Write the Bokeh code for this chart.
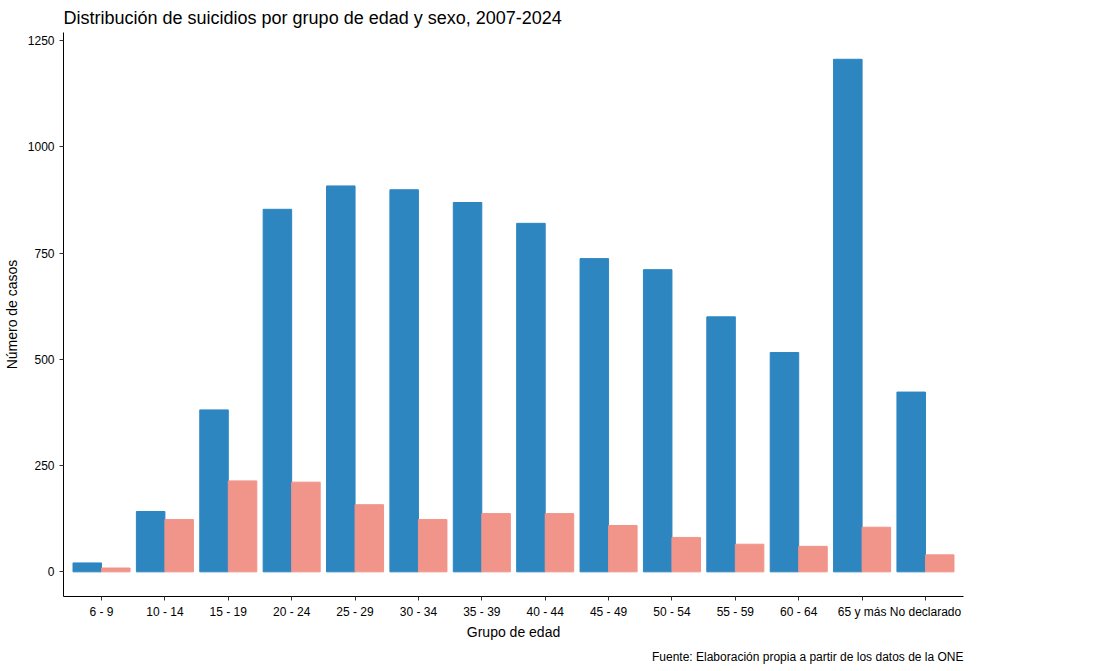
from bokeh.plotting import figure
from bokeh.models import Range1d, FixedTicker, Legend, LegendItem, Title
from bokeh.embed import file_html
from bokeh.resources import INLINE

grupos = ["6 - 9","10 - 14","15 - 19","20 - 24","25 - 29","30 - 34","35 - 39","40 - 44","45 - 49","50 - 54","55 - 59","60 - 64","65 y más","No declarado"]
hombres = [21,142,381,853,908,899,869,820,737,711,600,516,1206,423]
mujeres = [9,123,214,211,158,123,137,137,109,81,65,60,105,40]
yticks = [0,250,500,750,1000,1250]

F = "Liberation Sans"
p = figure(frame_width=900, frame_height=564, output_backend="svg", toolbar_location=None,
           x_range=Range1d(-0.6, len(grupos)-0.4), y_range=Range1d(-58, 1269),
           min_border_left=6, min_border_top=4, min_border_right=0, min_border_bottom=4)
p.title.text = "Distribución de suicidios por grupo de edad y sexo, 2007-2024"
p.title.text_font = F; p.title.text_font_size = "18px"; p.title.text_font_style = "normal"
p.title.text_color = "black"
xs = list(range(len(grupos)))
w = 0.45
rh = p.vbar(x=[i - w/2 for i in xs], top=hombres, width=w, color="#2E86C1")
rm = p.vbar(x=[i + w/2 for i in xs], top=mujeres, width=w, color="#F1948A")
p.xgrid.visible = False; p.ygrid.visible = False
p.outline_line_color = None
p.xaxis.ticker = FixedTicker(ticks=xs)
p.xaxis.major_label_overrides = {i: g for i, g in enumerate(grupos)}
p.yaxis.ticker = FixedTicker(ticks=yticks)
for ax in (p.xaxis[0], p.yaxis[0]):
    ax.minor_tick_line_color = None
    ax.major_label_text_font = F; ax.major_label_text_font_size = "12px"
    ax.major_label_text_color = "#000000"
    ax.axis_label_text_font = F; ax.axis_label_text_font_size = "14px"
    ax.axis_label_text_font_style = "normal"; ax.axis_label_text_color = "black"
    ax.major_tick_in = 0; ax.major_tick_out = 4
    ax.axis_line_color = "black"; ax.major_tick_line_color = "#333333"
p.xaxis.axis_label = "Grupo de edad"
p.yaxis.axis_label = "Número de casos"
p.xaxis.axis_label_standoff = 2
p.xaxis.major_label_standoff = 4
leg = Legend(items=[LegendItem(label="Hombres", renderers=[rh]), LegendItem(label="Mujeres", renderers=[rm])],
             title="Sexo", title_text_font=F, title_text_font_size="15px", title_text_color="black",
             label_text_font=F, label_text_font_size="12px", glyph_width=26, glyph_height=26,
             border_line_color=None, spacing=2, location="center", margin=4, padding=6,
             label_standoff=10)
p.add_layout(leg, "right")
cap = Title(text="Fuente: Elaboración propia a partir de los datos de la ONE", align="right",
            text_font=F, text_font_size="12px", text_font_style="normal", text_color="black")
p.add_layout(cap, "below")
open("out.html", "w").write(file_html(p, INLINE))
